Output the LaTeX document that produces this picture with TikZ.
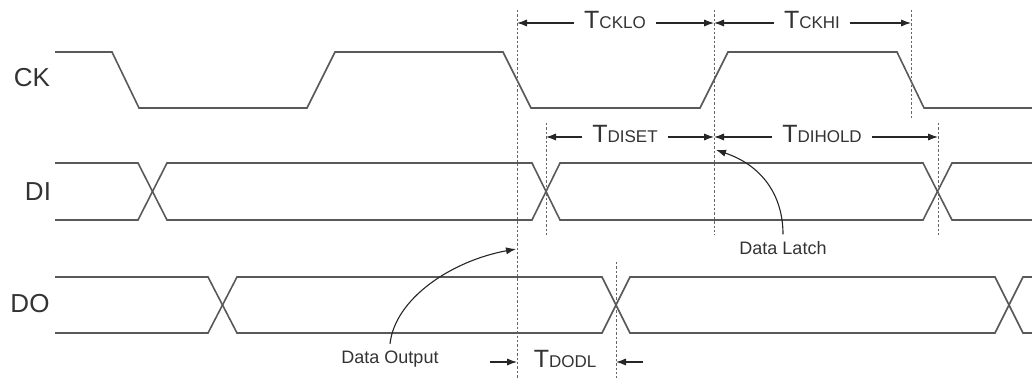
\documentclass[tikz,border=0pt]{standalone}
\usepackage{fontspec}
\setmainfont{Liberation Sans}
\usetikzlibrary{arrows.meta}
\newcommand{\tname}[1]{\fontsize{12.5}{14}\selectfont T{\fontsize{8.5}{10}\selectfont #1}}

\begin{document}
\begin{tikzpicture}[x=0.5pt,y=-0.5pt,
  wave/.style={black!65,line width=0.8pt},
  guide/.style={black!60,line width=0.5pt,dash pattern=on 1.2pt off 1pt},
  dim/.style={black!85,line width=0.55pt,-{Latex[length=5pt,width=3.6pt]}},
  sig/.style={text=black!80,font=\fontsize{13}{15}\selectfont},
  lbl/.style={text=black!80,anchor=base,inner sep=5pt},
  note/.style={text=black!80,font=\fontsize{9}{11}\selectfont}]
\useasboundingbox (0,0) rectangle (1032,378);

\node[sig] (ck) at (32,78) {CK};
\node[sig] (di) at (38,192) {DI};
\node[sig] (do) at (30,304) {DO};

\draw[wave] (55,52) -- (112,52) -- (139,108) -- (307,108) -- (335,52) -- (503,52) -- (531,108)
  -- (700,108) -- (728,52) -- (897,52) -- (924,108) -- (1032,108);

\draw[wave] (55,163) -- (138,163) -- (167,220) -- (532,220) -- (560,163) -- (923,163) -- (952,220) -- (1032,220);
\draw[wave] (55,220) -- (138,220) -- (167,163) -- (532,163) -- (560,220) -- (923,220) -- (952,163) -- (1032,163);

\draw[wave] (55,277) -- (208,277) -- (237,333) -- (602,333) -- (630,277) -- (995,277) -- (1023,333) -- (1032,333);
\draw[wave] (55,333) -- (208,333) -- (237,277) -- (602,277) -- (630,333) -- (995,333) -- (1023,277) -- (1032,277);

\draw[guide] (517,10) -- (517,378);
\draw[guide] (714,10) -- (714,235);
\draw[guide] (911,10) -- (911,120);
\draw[guide] (546,123) -- (546,235);
\draw[guide] (938,123) -- (938,235);
\draw[guide] (616,262) -- (616,378);

\coordinate (cklo1) at (517,23);
\coordinate (cklo2) at (714,23);
\coordinate (ckhi2) at (911,23);
\coordinate (diset1) at (546,137);
\coordinate (diset2) at (714,137);
\coordinate (dihold2) at (938,137);
\coordinate (dodl1) at (517,362);
\coordinate (dodl2) at (616,362);
\coordinate (dodlL) at (490,362);
\coordinate (dodlR) at (643,362);

\node[lbl] (tcklo) at (615,29) {\tname{CKLO}};
\node[lbl] (tckhi) at (812,29) {\tname{CKHI}};
\node[lbl] (tdiset) at (625,143) {\tname{DISET}};
\node[lbl] (tdihold) at (822,143) {\tname{DIHOLD}};
\node[lbl] (tdodl) at (565,368) {\tname{DODL}};

\draw[dim] (tcklo.west |- cklo1) -- (cklo1);
\draw[dim] (tcklo.east |- cklo2) -- (cklo2);
\draw[dim] (tckhi.west |- cklo2) -- (cklo2);
\draw[dim] (tckhi.east |- ckhi2) -- (ckhi2);
\draw[dim] (tdiset.west |- diset1) -- (diset1);
\draw[dim] (tdiset.east |- diset2) -- (diset2);
\draw[dim] (tdihold.west |- diset2) -- (diset2);
\draw[dim] (tdihold.east |- dihold2) -- (dihold2);
\draw[dim] (dodlL) -- (dodl1);
\draw[dim] (dodlR) -- (dodl2);

\node[note] (latch) at (783,248) {Data Latch};
\coordinate (latchpt) at (716,150);
\draw[dim] (latch.north) .. controls +(0,-40) and +(45,15) .. (latchpt);

\node[note] (dout) at (390,359) {Data Output};
\coordinate (outpt) at (516,249);
\draw[dim] (dout.north) .. controls +(5,-45) and +(-65,12) .. (outpt);
\end{tikzpicture}
\end{document}
